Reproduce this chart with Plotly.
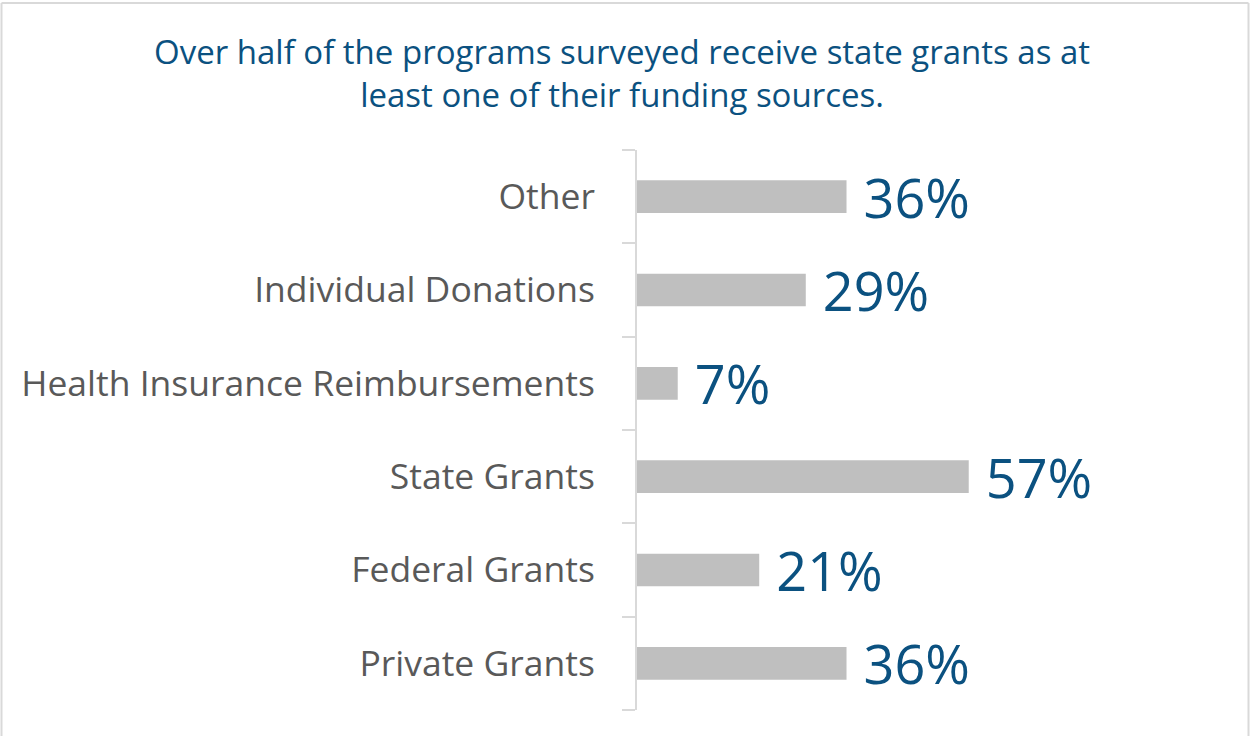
import plotly.graph_objects as go

categories = ["Private Grants", "Federal Grants", "State Grants",
              "Health Insurance Reimbursements", "Individual Donations", "Other"]
values = [36, 21, 57, 7, 29, 36]
labels = [f"{v}%" for v in values]

title_text = ("Over half of the programs surveyed receive state grants as at<br>"
              "least one of their funding sources.")

W, H = 1250, 736
L, R, T, B = 637, 31, 150, 26
pw, ph = W - L - R, H - T - B

fig = go.Figure(go.Bar(
    y=categories, x=values, orientation="h",
    marker=dict(color="#BFBFBF", line=dict(width=0)),
    width=0.35,
    text=labels, texttemplate=" %{text}", textposition="outside",
    constraintext="none",
    textfont=dict(family="Open Sans", size=54, color="#0B5180"),
    cliponaxis=False,
))

def px2x(p):
    return (p - L) / pw

def py2y(p):
    return 1 - (p - T) / ph

border = dict(color="#D9D9D9", width=2)
fig.add_shape(type="line", xref="paper", yref="paper",
              x0=px2x(1.5), x1=px2x(1248.5), y0=py2y(3), y1=py2y(3), line=border)
fig.add_shape(type="line", xref="paper", yref="paper",
              x0=px2x(1.5), x1=px2x(1.5), y0=py2y(3), y1=py2y(745), line=border)
fig.add_shape(type="line", xref="paper", yref="paper",
              x0=px2x(1248.5), x1=px2x(1248.5), y0=py2y(3), y1=py2y(745), line=border)

fig.add_annotation(text=title_text, xref="paper", yref="paper",
                   x=px2x(622), y=py2y(27), xanchor="center", yanchor="top",
                   showarrow=False, align="center",
                   font=dict(family="Open Sans", size=33, color="#0B5180"))

fig.update_layout(
    width=W, height=H,
    margin=dict(l=L, r=R, t=T, b=B, autoexpand=False),
    paper_bgcolor="white", plot_bgcolor="white",
    showlegend=False,
    xaxis=dict(range=[0, 100], visible=False, fixedrange=True),
    yaxis=dict(type="category", categoryorder="array", categoryarray=categories,
               showline=True, linecolor="#D9D9D9", linewidth=2,
               ticks="outside", ticklen=13, tickcolor="#D9D9D9", tickwidth=2,
               tickson="boundaries", ticklabelstandoff=33,
               tickfont=dict(family="Open Sans", size=35.5, color="#595959"),
               showgrid=False, zeroline=False, fixedrange=True),
)

fig.write_html("out.html", config={"displayModeBar": False},
               post_script="document.body.style.margin='0';document.body.style.overflow='hidden';")
